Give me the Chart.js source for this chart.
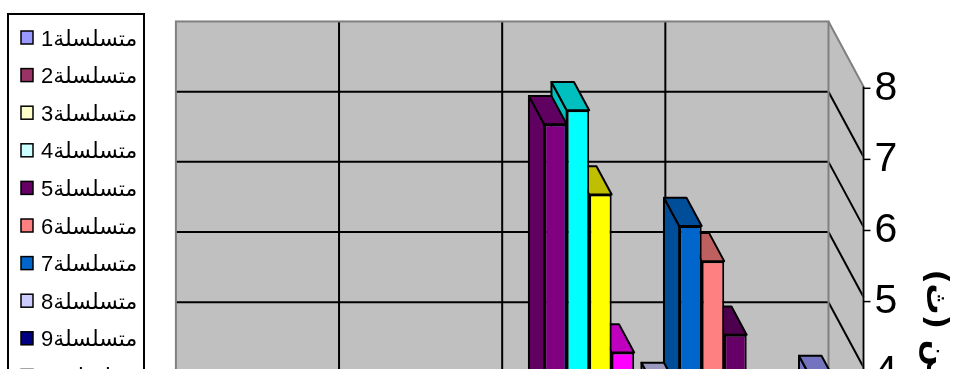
<!DOCTYPE html>
<html>
<head>
<meta charset="utf-8">
<script src="https://cdn.jsdelivr.net/npm/chart.js@4.4.0/dist/chart.umd.min.js"></script>
<style>
    html, body { margin: 0; padding: 0; background: #ffffff; overflow: hidden; }
    #wrap { width: 958px; height: 369px; overflow: hidden; }
</style>
</head>
<body>
<div id="wrap"><canvas id="chartCanvasId" width="958" height="690"></canvas></div>
<script>
"use strict";

// two categories (their labels sit below the visible crop), 13 series
const categories = ["1", "2"];
const seriesNames = [
    "متسلسلة1", "متسلسلة2", "متسلسلة3", "متسلسلة4", "متسلسلة5",
    "متسلسلة6", "متسلسلة7", "متسلسلة8", "متسلسلة9", "متسلسلة10",
    "متسلسلة11", "متسلسلة12", "متسلسلة13",
];
const seriesColors = [
    "#9999FF", "#993366", "#FFFFCC", "#CCFFFF", "#660066",
    "#FF8080", "#0066CC", "#CCCCFF", "#000080", "#FF00FF",
    "#FFFF00", "#00FFFF", "#800080",
];
// values of each series in the first (right hand) category
const firstCategoryValues = [3.5, 2.6, 2.2, 2.9, 4.2, 5.25, 5.75, 3.4, 2.4, 3.95, 6.2, 7.4, 7.2];
// second category: every bar is lower than the visible part of the chart
const secondCategoryValues = [2.1, 1.6, 2.4, 1.9, 2.7, 2.2, 1.8, 2.5, 1.4, 2.0, 2.6, 2.3, 1.7];
const valueTicks = [1, 2, 3, 4, 5, 6, 7, 8];
const axisTitle = "الزمن (ث)";

// 3d look: offset of the front edge of the floor from the back wall,
// and where the columns sit inside that depth
const WALL_DX = 35;
const WALL_DY = 65;
const BAR_FRONT = 0.7175;
const BAR_DEPTH = 0.435;

function shade(hex, f) {
    const n = parseInt(hex.slice(1), 16);
    const r = Math.round(((n >> 16) & 255) * f);
    const g = Math.round(((n >> 8) & 255) * f);
    const b = Math.round((n & 255) * f);
    return `rgb(${r}, ${g}, ${b})`;
}

function line(ctx, x1, y1, x2, y2) {
    ctx.beginPath();
    ctx.moveTo(x1, y1);
    ctx.lineTo(x2, y2);
    ctx.stroke();
}

const wallsAndFaces = {
    id: "wallsAndFaces",
    beforeDatasetsDraw(chart) {
        const ctx = chart.ctx;
        const area = chart.chartArea;
        const xScale = chart.scales.x;
        const yScale = chart.scales.y;
        const fx = WALL_DX * BAR_FRONT;
        const fy = WALL_DY * BAR_FRONT;
        const left = area.left - fx;
        const right = area.right - fx;
        const top = yScale.getPixelForValue(yScale.max) - fy;
        const bottom = area.bottom - fy;

        ctx.save();
        // back wall
        ctx.fillStyle = "#c0c0c0";
        ctx.fillRect(left, top, right - left, bottom - top);
        // side wall
        ctx.beginPath();
        ctx.moveTo(right, top);
        ctx.lineTo(right + WALL_DX, top + WALL_DY);
        ctx.lineTo(right + WALL_DX, bottom + WALL_DY);
        ctx.lineTo(right, bottom);
        ctx.closePath();
        ctx.fill();

        ctx.strokeStyle = "#000000";
        ctx.lineWidth = 2;
        valueTicks.forEach(v => {
            if (v >= yScale.max) return;
            const py = yScale.getPixelForValue(v) - fy;
            line(ctx, left, py, right, py);
            line(ctx, right, py, right + WALL_DX, py + WALL_DY);
        });
        const centres = categories.map((c, i) => xScale.getPixelForValue(i) - fx);
        centres.forEach((cx, i) => {
            line(ctx, cx, top, cx, bottom);
            if (i > 0) {
                const mid = (cx + centres[i - 1]) / 2;
                line(ctx, mid, top, mid, bottom);
            }
        });

        ctx.strokeStyle = "#808080";
        ctx.lineWidth = 2;
        ctx.strokeRect(left, top, right - left, bottom - top);
        ctx.beginPath();
        ctx.moveTo(right, top);
        ctx.lineTo(right + WALL_DX, top + WALL_DY);
        ctx.lineTo(right + WALL_DX, bottom + WALL_DY);
        ctx.stroke();

        // top and side faces of the columns, right to left
        const bars = [];
        chart.data.datasets.forEach((ds, i) => {
            chart.getDatasetMeta(i).data.forEach(bar => {
                bars.push({ bar, color: ds.backgroundColor });
            });
        });
        bars.sort((a, b) => b.bar.x - a.bar.x);
        const bdx = WALL_DX * BAR_DEPTH;
        const bdy = WALL_DY * BAR_DEPTH;
        ctx.strokeStyle = "#000000";
        ctx.lineWidth = 2;
        ctx.lineJoin = "round";
        bars.forEach(({ bar, color }) => {
            const p = bar.getProps(["x", "y", "base", "width"], true);
            const l = p.x - p.width / 2;
            const r = p.x + p.width / 2;
            ctx.fillStyle = shade(color, 0.75);
            ctx.beginPath();
            ctx.moveTo(l, p.base);
            ctx.lineTo(l, p.y);
            ctx.lineTo(l - bdx, p.y - bdy);
            ctx.lineTo(l - bdx, p.base - bdy);
            ctx.closePath();
            ctx.fill();
            ctx.stroke();
            ctx.beginPath();
            ctx.moveTo(l, p.y);
            ctx.lineTo(r, p.y);
            ctx.lineTo(r - bdx, p.y - bdy);
            ctx.lineTo(l - bdx, p.y - bdy);
            ctx.closePath();
            ctx.fill();
            ctx.stroke();
        });
        ctx.restore();
    },
    afterDraw(chart) {
        const ctx = chart.ctx;
        const area = chart.chartArea;
        const yScale = chart.scales.y;
        const axis = chart.scales.yR;
        const axisX = area.right - WALL_DX * BAR_FRONT + WALL_DX;
        const top = yScale.getPixelForValue(yScale.max) - WALL_DY * BAR_FRONT + WALL_DY;

        ctx.save();
        ctx.strokeStyle = "#000000";
        ctx.lineWidth = 1.5;
        line(ctx, axisX, top, axisX, chart.height);
        axis.ticks.forEach(t => {
            const py = axis.getPixelForValue(t.value);
            line(ctx, axisX, py, axisX + 7, py);
        });

        // legend box, series listed in their own order
        const lx = 8, ly = 14, lw = 136, rowH = 37.6;
        ctx.lineWidth = 2;
        ctx.strokeRect(lx, ly, lw, seriesNames.length * rowH + 14);
        ctx.font = '22px "Liberation Sans", "DejaVu Sans", sans-serif';
        ctx.textBaseline = "alphabetic";
        ctx.textAlign = "left";
        seriesNames.forEach((name, i) => {
            const cy = ly + 23.5 + i * rowH;
            ctx.fillStyle = seriesColors[i];
            ctx.fillRect(21, cy - 6.5, 12, 13);
            ctx.lineWidth = 1.5;
            ctx.strokeRect(21, cy - 6.5, 12, 13);
            ctx.fillStyle = "#000000";
            ctx.fillText(name, 41, cy + 8);
        });
        ctx.restore();
    },
};

// series 1 sits at the right end of each group, so the datasets go in reverse
const datasets = seriesNames.map((name, i) => ({
    label: name,
    data: [firstCategoryValues[i], secondCategoryValues[i]],
    backgroundColor: seriesColors[i],
    borderColor: "#000000",
    borderWidth: 2,
    yAxisID: "y",
})).reverse();

const chartCanvas = document.getElementById("chartCanvasId");
const myChart = new Chart(chartCanvas.getContext("2d"), {
    type: "bar",
    data: { labels: categories, datasets },
    options: {
        responsive: false,
        animation: false,
        devicePixelRatio: 1,
        categoryPercentage: 13 / 14.5,
        barPercentage: 1,
        layout: { padding: { left: 201, right: 0, top: 68.1, bottom: 60.3 } },
        plugins: {
            legend: { display: false },
            tooltip: { enabled: false },
        },
        scales: {
            x: {
                type: "category",
                reverse: true,
                display: false,
            },
            y: {
                min: 0,
                max: 8,
                display: false,
            },
            yR: {
                position: "right",
                min: 0.385,
                max: 8.284,
                grid: { display: false, drawTicks: false },
                border: { display: false },
                afterBuildTicks: axis => {
                    axis.ticks = valueTicks.map(v => ({ value: v }));
                },
                afterFit: axis => {
                    axis.width = 104.4;
                },
                ticks: {
                    color: "#000000",
                    padding: 21,
                    autoSkip: false,
                    font: { family: '"Liberation Sans", Arial, sans-serif', size: 41 },
                },
                title: {
                    display: true,
                    text: axisTitle,
                    color: "#000000",
                    padding: { top: 4, bottom: 0 },
                    font: { family: '"DejaVu Sans", sans-serif', size: 31, weight: "bold" },
                },
            },
        },
    },
    plugins: [wallsAndFaces],
});
</script>
</body>
</html>
